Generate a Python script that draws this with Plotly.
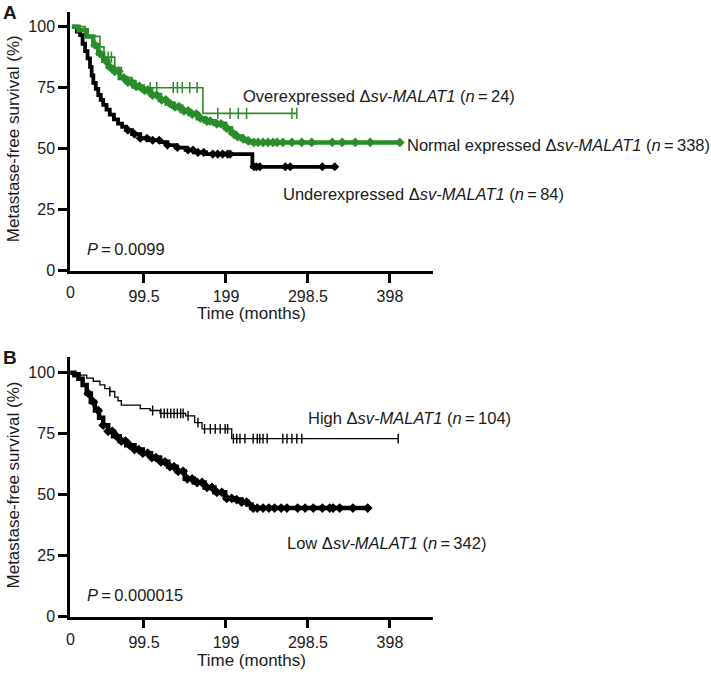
import plotly.graph_objects as go

W, H = 711, 679
GREEN = "#2a8c2a"
FONT = "Liberation Sans, Arial, Helvetica, sans-serif"

# ---------------- Panel A data (time in months, survival in %) ----------------
a_under_t = [12, 18, 22, 25, 28, 31, 34, 36, 38, 41, 44, 47, 50, 54, 58, 63, 68, 73, 78, 85, 95, 105, 119, 128, 139, 150, 160, 175, 231]
a_under_s = [100, 98, 96.5, 93, 90, 87, 83.5, 80, 77, 74.5, 72, 70, 68, 66, 64, 62, 60.3, 59, 57.6, 56, 54.3, 53.5, 52.7, 51.5, 50.5, 49.5, 48.5, 47.8, 42.6]
a_under_end = 331
a_under_cens = [80, 88, 95, 103, 110, 118, 128, 140, 153, 159, 165, 172, 183, 189, 195, 201, 204, 233, 236, 240, 271, 277, 316, 331]

a_norm_t = [12, 20, 30, 38, 44, 50, 56, 62, 70, 78, 88, 98, 108, 119, 127, 135, 145, 155, 165, 173, 185, 198, 205, 210, 218, 224, 230]
a_norm_s = [100, 98.5, 96, 92.5, 89, 86, 83.5, 81.7, 79, 77.3, 75.5, 74, 72, 70, 68.5, 67.2, 65.5, 64.2, 62.5, 61.3, 60.2, 58.4, 56.5, 55, 54, 53.2, 52.6]
a_norm_end = 410
a_norm_cens = [40, 46, 53, 58, 64, 69, 75, 80, 84, 90, 94, 100, 104, 110, 115, 121, 126, 131, 137, 142, 148, 153, 158, 163, 168, 176, 180, 188, 193, 200, 207, 213, 220, 226, 233, 238, 244, 250, 256, 261, 268, 279, 291, 303, 328, 340, 356, 374, 410]

a_over_t = [12, 28, 46, 51, 64, 72, 85, 171]
a_over_s = [100, 96, 91.7, 87.5, 83.3, 79.2, 75, 64.5]
a_over_end = 285
a_over_cens = [56, 60, 107, 115, 135, 140, 146, 155, 164, 189, 204, 214, 224, 279, 285]

# ---------------- Panel B data ----------------
b_high_t = [12, 22, 30, 38, 46, 52, 58, 64, 68, 72, 95, 107, 119, 150, 161, 170, 206]
b_high_s = [100, 99, 97.8, 96.5, 95, 93.5, 92.3, 90, 88.5, 86.7, 85.3, 84.5, 83.3, 82.3, 79.5, 77, 73]
b_high_end = 408
b_high_cens = [58, 110, 120, 124, 128, 132, 136, 140, 144, 147, 153, 165, 173, 180, 186, 192, 198, 201, 208, 212, 216, 222, 232, 237, 240, 244, 249, 268, 273, 279, 285, 291, 408]

b_low_t = [10, 15, 20, 25, 30, 35, 40, 45, 50, 56, 62, 70, 78, 88, 98, 108, 119, 129, 139, 149, 160, 173, 185, 198, 208, 218, 225, 230]
b_low_s = [100, 99, 97.5, 95, 91.5, 88, 84.5, 81.5, 78.5, 76, 74, 72, 70.3, 68.5, 67, 65.2, 63.5, 61.5, 59.6, 56.5, 55, 53, 51, 48.5, 48, 47, 46, 44.5]
b_low_end = 371
b_low_cens = [32, 38, 44, 50, 56, 61, 66, 72, 77, 82, 88, 93, 98, 104, 109, 114, 120, 125, 131, 136, 141, 147, 152, 158, 164, 170, 176, 182, 188, 194, 200, 206, 212, 218, 224, 232, 237, 244, 251, 258, 266, 273, 286, 295, 305, 316, 325, 329, 337, 353, 371]

x_ticks = [99.5, 199, 298.5, 398]
x_tick_text = ["99.5", "199", "298.5", "398"]
y_ticks = [0, 25, 50, 75, 100]

# ---------------- helpers ----------------
def level_at(ts, ss, t):
    v = ss[0]
    for ti, si in zip(ts, ss):
        if ti <= t:
            v = si
    return v

fig = go.Figure()

def km(ts, ss, end, cens, color, width, msym, msize, mlw, xa, ya):
    fig.add_trace(go.Scatter(x=ts + [end], y=ss + [ss[-1]], mode="lines", line_shape="hv",
                             line=dict(color=color, width=width), xaxis=xa, yaxis=ya,
                             showlegend=False, hoverinfo="skip"))
    fig.add_trace(go.Scatter(x=cens, y=[level_at(ts, ss, c) for c in cens], mode="markers",
                             marker=dict(symbol=msym, size=msize, color=color,
                                         line=dict(color=color, width=mlw)),
                             xaxis=xa, yaxis=ya, showlegend=False, hoverinfo="skip"))

km(a_over_t, a_over_s, a_over_end, a_over_cens, GREEN, 1.6, "line-ns", 8, 1.5, "x", "y")
km(a_under_t, a_under_s, a_under_end, a_under_cens, "black", 3.8, "diamond", 7, 0, "x", "y")
km(a_norm_t, a_norm_s, a_norm_end, a_norm_cens, GREEN, 4.5, "diamond", 7.5, 0, "x", "y")
km(b_high_t, b_high_s, b_high_end, b_high_cens, "black", 1.3, "line-ns", 7, 1.4, "x2", "y2")
km(b_low_t, b_low_s, b_low_end, b_low_cens, "black", 4.5, "diamond", 7.5, 0, "x2", "y2")

# ---------------- axes ----------------
PX0 = 62.0      # pixel of time 0
KX = 0.824      # pixels per month
x_left_px, x_right_px = 70, 433
xr = [(x_left_px - PX0) / KX, (x_right_px - PX0) / KX]
xdom = [x_left_px / W, x_right_px / W]

def ax_common():
    return dict(showline=True, linewidth=2.5, linecolor="black", ticks="outside",
                ticklen=9, tickwidth=2.5, tickcolor="black", showgrid=False, zeroline=False,
                tickfont=dict(family=FONT, size=16, color="#1a1a1a"))

a_y0, a_y100, a_top = 274.5, 27.0, 12.0
kya = (a_y0 - a_y100) / 100
b_y0, b_y100, b_top = 625.0, 377.7, 362.0
kyb = (b_y0 - b_y100) / 100

fig.update_layout(
    width=W, height=H, margin=dict(l=0, r=0, t=0, b=0),
    paper_bgcolor="white", plot_bgcolor="white", showlegend=False,
    xaxis=dict(domain=xdom, range=xr, tickvals=x_ticks, ticktext=x_tick_text,
               anchor="y", **ax_common()),
    yaxis=dict(domain=[1 - a_y0 / H, 1 - a_top / H], range=[0, (a_y0 - a_top) / kya],
               tickvals=y_ticks, anchor="x", **ax_common()),
    xaxis2=dict(domain=xdom, range=xr, tickvals=x_ticks, ticktext=x_tick_text,
                anchor="y2", **ax_common()),
    yaxis2=dict(domain=[1 - b_y0 / H, 1 - b_top / H], range=[0, (b_y0 - b_top) / kyb],
                tickvals=y_ticks, anchor="x2", **ax_common()),
)

def txt(px, py, text, size=16.5, xanchor="left", angle=0):
    fig.add_annotation(x=px / W, y=1 - py / H, xref="paper", yref="paper", text=text,
                       showarrow=False, xanchor=xanchor, yanchor="middle", textangle=angle,
                       borderpad=0, font=dict(family=FONT, size=size, color="#1a1a1a"))

D = "\u0394"
TS = "\u2009"
txt(242, 97, f"Overexpressed {D}<i>sv-MALAT1</i> (<i>n</i>{TS}={TS}24)")
txt(406, 147, f"Normal expressed {D}<i>sv-MALAT1</i> (<i>n</i>{TS}={TS}338)")
txt(282, 197, f"Underexpressed {D}<i>sv-MALAT1</i> (<i>n</i>{TS}={TS}84)")
txt(86, 252, f"<i>P</i>{TS}={TS}0.0099")
txt(307, 424, f"High {D}<i>sv-MALAT1</i> (<i>n</i>{TS}={TS}104)")
txt(286, 550, f"Low {D}<i>sv-MALAT1</i> (<i>n</i>{TS}={TS}342)")
txt(86, 603, f"<i>P</i>{TS}={TS}0.000015")

# x "0" labels at the y axis, axis titles, panel letters
txt(70, 296, "0", size=16, xanchor="center")
txt(70, 648, "0", size=16, xanchor="center")
txt(251, 318, "Time (months)", size=17, xanchor="center")
txt(251, 669, "Time (months)", size=17, xanchor="center")
txt(13, 141, "Metastase-free survival (%)", size=17, xanchor="center", angle=-90)
txt(13, 492, "Metastase-free survival (%)", size=17, xanchor="center", angle=-90)
txt(2, 13, "<b>A</b>", size=19)
txt(2, 362, "<b>B</b>", size=19)

fig.write_html("out.html", config={"displayModeBar": False},
               post_script="document.body.style.margin='0';document.body.style.overflow='hidden';")
